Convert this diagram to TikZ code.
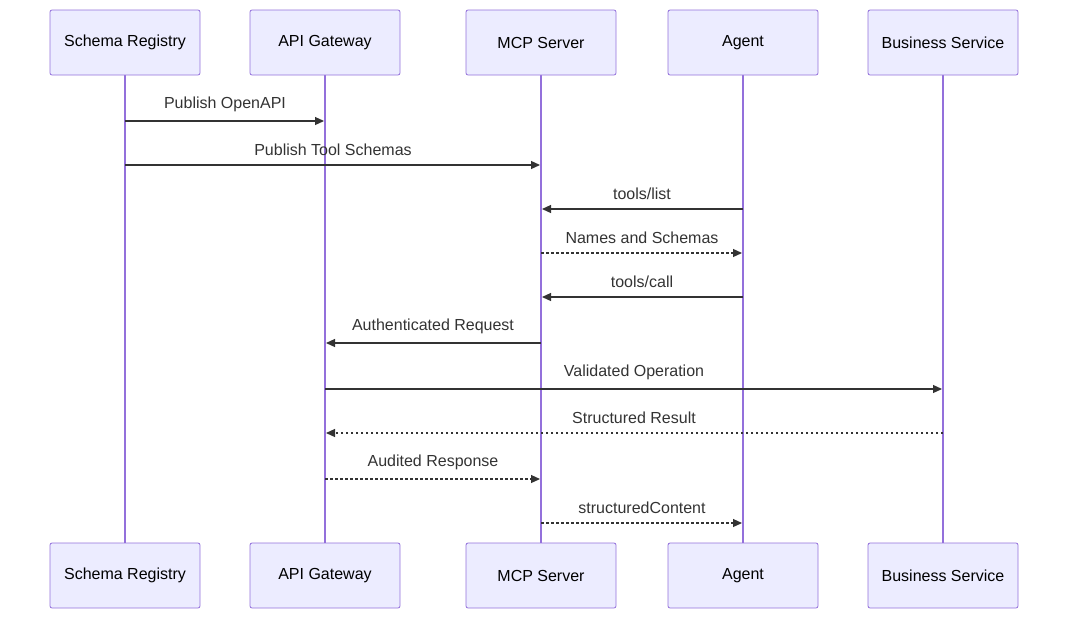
\documentclass[tikz,border=0pt]{standalone}
\usepackage{fontspec}
\setmainfont{Liberation Sans}
\usetikzlibrary{arrows.meta}
\definecolor{boxfill}{HTML}{ECECFF}
\definecolor{boxline}{HTML}{9370DB}
\definecolor{msg}{HTML}{333333}
\begin{document}
\begin{tikzpicture}[x=1pt,y=-1pt,
  actor/.style={draw=boxline,fill=boxfill,rounded corners=2pt,minimum width=150pt,minimum height=65pt,inner sep=0pt,font=\fontsize{16}{19}\selectfont,text=black,line width=0.8pt},
  life/.style={draw=boxline,line width=1.2pt},
  m/.style={draw=msg,line width=1.2pt,-{Triangle[length=9pt,width=8pt]}},
  d/.style={m,dash pattern=on 2.5pt off 2.5pt},
  lab/.style={font=\fontsize{16}{19}\selectfont,text=msg}]
\useasboundingbox (0,0) rectangle (1068,619);
\foreach \n/\x/\t in {sr/125/Schema Registry,ag/325/API Gateway,mcp/541/MCP Server,a/743/Agent,bs/943/Business Service}{
  \draw[life] (\x,75) -- (\x,543);
  \node[actor] (\n t) at (\x,42.5) {\t};
  \node[actor] (\n b) at (\x,575.5) {\t};
  \coordinate (\n) at (\x,0);
}
\newcommand{\msgline}[5]{%
  \coordinate (s) at ($(#1)+(0,#3)$);
  \coordinate (e) at ($(#2)+(0,#3)$);
}
\foreach \a/\b/\y/\s/\t in {
  sr/ag/121/m/Publish OpenAPI,
  sr/mcp/165/m/Publish Tool Schemas,
  a/mcp/209/m/tools\slash list,
  mcp/a/253/d/Names and Schemas,
  a/mcp/297/m/tools\slash call,
  mcp/ag/343/m/Authenticated Request,
  ag/bs/389/m/Validated Operation,
  bs/ag/433/d/Structured Result,
  ag/mcp/479/d/Audited Response,
  mcp/a/523/d/structuredContent}{
  \path (\a) ++(0,\y) coordinate (p1);
  \path (\b) ++(0,\y) coordinate (p2);
  \draw[\s,shorten >=1pt] (p1) -- (p2) node[lab,midway,above=5pt] {\t};
}
\end{tikzpicture}
\end{document}
